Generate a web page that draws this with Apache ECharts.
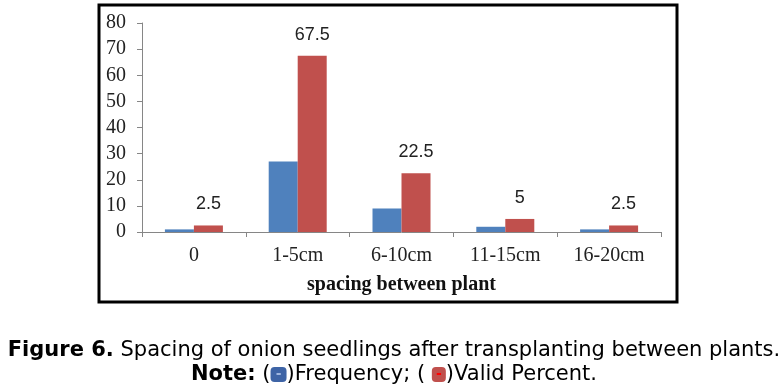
<!DOCTYPE html>
<html>
<head>
<meta charset="utf-8">
<script src="https://cdn.jsdelivr.net/npm/echarts@6/dist/echarts.min.js"></script>
<style>html,body{margin:0;padding:0;background:#fff;}#c{width:783px;height:386px;}</style>
</head>
<body>
<div id="c"></div>
<script>
const categories = ['0', '1-5cm', '6-10cm', '11-15cm', '16-20cm'];
const frequency = [1, 27, 9, 2, 1];
const validPercent = [2.5, 67.5, 22.5, 5, 2.5];
const yTicks = { min: 0, max: 80, interval: 10 };

const chart = echarts.init(document.getElementById('c'), null, { renderer: 'canvas' });
const serif = '"Liberation Serif", "Times New Roman", serif';
const sans = '"DejaVu Sans", Verdana, sans-serif';
const lblFont = '"Liberation Sans", Arial, sans-serif';

chart.setOption({
  animation: false,
  backgroundColor: '#fff',
  grid: { left: 142, right: 122, top: 23, bottom: 154, containLabel: false },
  xAxis: {
    type: 'category',
    data: categories,
    axisLine: { show: true, lineStyle: { color: '#868686', width: 1 } },
    axisTick: { show: true, alignWithLabel: false, length: 5, lineStyle: { color: '#868686' } },
    axisLabel: { fontFamily: serif, fontSize: 20, color: '#222', margin: 14 },
    name: 'spacing between plant',
    nameLocation: 'middle',
    nameGap: 43,
    nameTextStyle: { fontFamily: serif, fontSize: 20, fontWeight: 'bold', color: '#111' }
  },
  yAxis: {
    type: 'value',
    min: yTicks.min, max: yTicks.max, interval: yTicks.interval,
    axisLine: { show: true, lineStyle: { color: '#868686', width: 1 } },
    axisTick: { show: true, length: 5, lineStyle: { color: '#868686' } },
    splitLine: { show: false },
    axisLabel: { fontFamily: serif, fontSize: 20, color: '#222', margin: 16 }
  },
  series: [
    {
      name: 'Frequency', type: 'bar', data: frequency,
      barWidth: 29, barGap: '0%',
      itemStyle: { color: '#4F81BD' }
    },
    {
      name: 'Valid Percent', type: 'bar', data: validPercent,
      barWidth: 29,
      itemStyle: { color: '#C0504D' },
      label: { show: true, position: 'top', distance: 12, fontFamily: lblFont, fontSize: 18, color: '#222' }
    }
  ],
  graphic: [
    { type: 'rect', shape: { x: 99, y: 5, width: 578, height: 297 },
      style: { fill: 'none', stroke: '#000', lineWidth: 3 }, silent: true }
  ],
  title: [
    {
      text: '{b|Figure 6.} Spacing of onion seedlings after transplanting between plants.',
      left: 389, top: 335, textAlign: 'center',
      textStyle: {
        fontFamily: sans, fontSize: 21, fontWeight: 'normal', color: '#000',
        rich: { b: { fontFamily: sans, fontSize: 21, fontWeight: 'bold', color: '#000' } }
      }
    },
    {
      text: '{b|Note:} ({bl|-})Frequency; ( {rd|-})Valid Percent.',
      left: 389, top: 359, textAlign: 'center',
      textStyle: {
        fontFamily: sans, fontSize: 21, fontWeight: 'normal', color: '#000',
        rich: {
          b: { fontFamily: sans, fontSize: 21, fontWeight: 'bold', color: '#000' },
          bl: { backgroundColor: '#3E64A6', color: '#9FB6E0', width: 16, height: 15, align: 'center', borderRadius: 4, fontSize: 14, fontWeight: 'bold', lineHeight: 15 },
          rd: { backgroundColor: '#C0504D', color: '#FF0000', width: 14, height: 15, align: 'center', borderRadius: 4, fontSize: 14, fontWeight: 'bold', lineHeight: 15 }
        }
      }
    }
  ]
});
</script>
</body>
</html>
